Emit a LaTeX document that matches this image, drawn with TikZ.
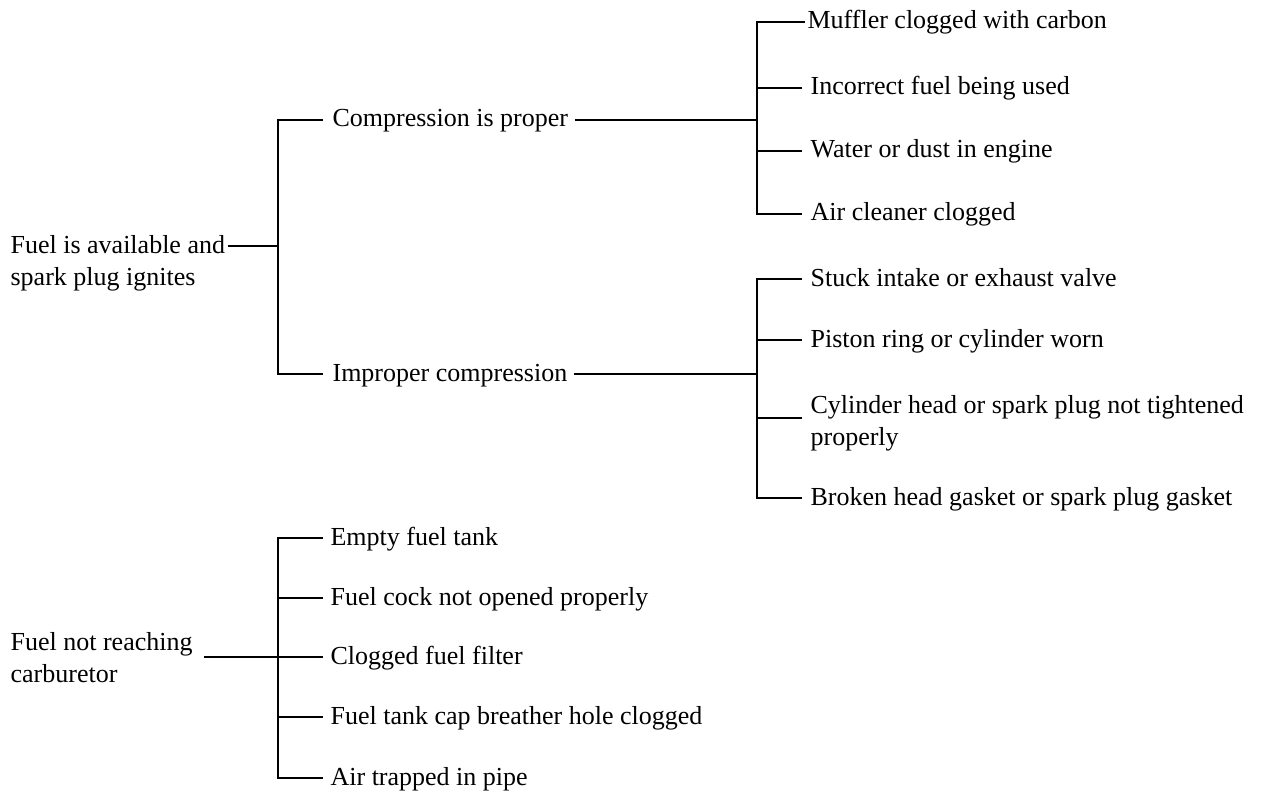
\documentclass[tikz,border=0pt]{standalone}
\usepackage{fontspec}
\setmainfont{Liberation Serif}
\begin{document}
\begin{tikzpicture}[x=1pt,y=-1pt,line width=1.2pt,
  lbl/.style={inner sep=0pt,anchor=base west,font=\fontsize{26}{32}\selectfont},
  mlbl/.style={inner sep=0pt,anchor=north west,align=left,font=\fontsize{26}{32}\selectfont}]
\useasboundingbox (0,0) rectangle (1266,805);

% ---------- first tree ----------
\node[mlbl] (avail) at (10,235) {Fuel is available and\\spark plug ignites};
\coordinate (avail-out) at ([shift={(2,11)}]avail.north east);
\coordinate (j1) at (278,246);

\node[lbl] (comp) at (332,127) {Compression is proper};
\node[lbl] (imp) at (332,381) {Improper compression};
\coordinate (comp-in) at ([shift={(-9,-7)}]comp.base west);
\coordinate (imp-in) at ([shift={(-9,-7)}]imp.base west);
\coordinate (comp-out) at ([shift={(6,-7)}]comp.base east);
\coordinate (imp-out) at ([shift={(6,-7)}]imp.base east);

\draw (avail-out) -- (j1);
\draw (comp-in) -| (j1) |- (imp-in);

% upper branch
\coordinate (xr) at (757,0);
\coordinate (j2) at (comp-out -| xr);
\node[lbl] (muf) at (807,29) {Muffler clogged with carbon};
\node[lbl] (inc) at (810,95) {Incorrect fuel being used};
\node[lbl] (wat) at (810,158) {Water or dust in engine};
\node[lbl] (air) at (810,221) {Air cleaner clogged};
\coordinate (muf-in) at ([shift={(-2,-7)}]muf.base west);
\coordinate (inc-in) at ([shift={(-8,-7)}]inc.base west);
\coordinate (wat-in) at ([shift={(-8,-7)}]wat.base west);
\coordinate (air-in) at ([shift={(-8,-7)}]air.base west);
\draw (comp-out) -- (j2);
\draw (muf-in) -| (j2) |- (air-in);
\draw (inc-in) -- (inc-in -| j2);
\draw (wat-in) -- (wat-in -| j2);

% lower branch
\coordinate (j3) at (imp-out -| xr);
\node[lbl] (stk) at (810,286) {Stuck intake or exhaust valve};
\node[lbl] (pis) at (810,347) {Piston ring or cylinder worn};
\node[mlbl] (cyl) at (810,395) {Cylinder head or spark plug not tightened\\properly};
\node[lbl] (brk) at (810,505) {Broken head gasket or spark plug gasket};
\coordinate (stk-in) at ([shift={(-8,-7)}]stk.base west);
\coordinate (pis-in) at ([shift={(-8,-7)}]pis.base west);
\coordinate (cyl-in) at ([shift={(-8,23)}]cyl.north west);
\coordinate (brk-in) at ([shift={(-8,-7)}]brk.base west);
\draw (imp-out) -- (j3);
\draw (stk-in) -| (j3) |- (brk-in);
\draw (pis-in) -- (pis-in -| j3);
\draw (cyl-in) -- (cyl-in -| j3);

% ---------- second tree ----------
\node[mlbl] (nr) at (10,632) {Fuel not reaching\\carburetor};
\coordinate (j4) at (278,657);
\coordinate (nr-out) at (nr.north east |- j4);
\coordinate (nr-start) at ([xshift=11pt]nr-out);

\node[lbl] (emp) at (330,545) {Empty fuel tank};
\node[lbl] (ck) at (330,605) {Fuel cock not opened properly};
\node[lbl] (clg) at (330,664) {Clogged fuel filter};
\node[lbl] (cap) at (330,724) {Fuel tank cap breather hole clogged};
\node[lbl] (atp) at (330,785) {Air trapped in pipe};
\coordinate (emp-in) at ([shift={(-7,-7)}]emp.base west);
\coordinate (ck-in) at ([shift={(-7,-7)}]ck.base west);
\coordinate (clg-in) at ([shift={(-7,-7)}]clg.base west);
\coordinate (cap-in) at ([shift={(-7,-7)}]cap.base west);
\coordinate (atp-in) at ([shift={(-7,-7)}]atp.base west);

\draw (nr-start) -- (j4) -- (clg-in);
\draw (emp-in) -| (j4) |- (atp-in);
\draw (ck-in) -- (ck-in -| j4);
\draw (cap-in) -- (cap-in -| j4);
\end{tikzpicture}
\end{document}
